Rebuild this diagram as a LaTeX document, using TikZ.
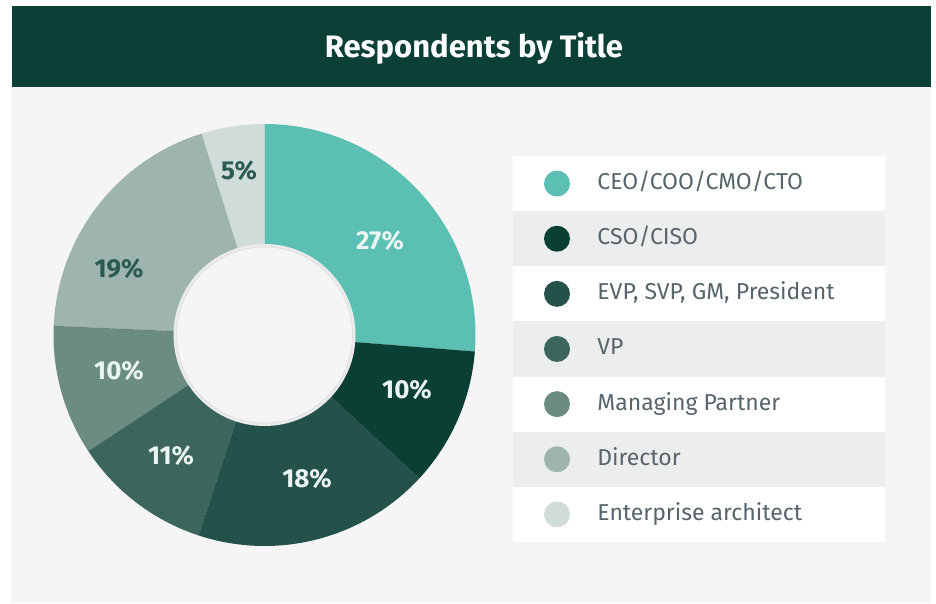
\documentclass[tikz,border=0pt]{standalone}
\usepackage{fontspec}
\setmainfont{Fira Sans}
\usepackage{xcolor}
\usepackage{tikz}
\usetikzlibrary{positioning}

\definecolor{barGreen}{HTML}{0A4035}
\definecolor{panelGray}{HTML}{F5F5F5}
\definecolor{rowGray}{HTML}{ECEEED}
\definecolor{legText}{HTML}{56656B}
\definecolor{pctLight}{HTML}{EAF4F1}
\definecolor{pctDark}{HTML}{2B5B50}
\definecolor{sCeo}{HTML}{5BBFB3}
\definecolor{sCso}{HTML}{0A4034}
\definecolor{sEvp}{HTML}{24524A}
\definecolor{sVp}{HTML}{3C665C}
\definecolor{sMp}{HTML}{6B8C83}
\definecolor{sDir}{HTML}{9DB5AE}
\definecolor{sEa}{HTML}{D0DCD9}

\begin{document}
\begin{tikzpicture}[x=1pt,y=1pt]

\def\R{211}
\def\r{88}
\def\rowh{55.14}
\tikzstyle{pct} = [font=\bfseries\fontsize{26}{26}\selectfont, text=pctLight,
	text height=0.69em, text depth=0pt, inner sep=0pt];
\tikzstyle{item} = [font=\fontsize{23}{23}\selectfont, text=legText,
	text height=0.69em, text depth=0pt, inner sep=0pt];
\tikzstyle{dot} = [circle, minimum size=26pt, inner sep=0pt];

\useasboundingbox (0,0) rectangle (936,603);
\fill[white] (0,0) rectangle (936,603);
\fill[panelGray] (11,0) rectangle (931,516);
\fill[barGreen] (12,516) rectangle (931,597);
\node[font=\bfseries\fontsize{31}{31}\selectfont, text=white] (title) at (474,555) {Respondents by Title};

% donut
\coordinate (c) at (264.5,268);
\foreach \a/\b/\col in {90/-4.5/sCeo, -4.5/-42.8/sCso, -42.8/-108.2/sEvp,
	-108.2/-146.6/sVp, -146.6/-182.5/sMp, -182.5/-252.6/sDir, -252.6/-270/sEa} {
	\fill[\col] (c) -- ++(\a:\R) arc[start angle=\a, end angle=\b, radius=\R] -- cycle;
	\draw[black, opacity=.12, line width=.6pt] (c) -- ++(\a:\R);
}
\draw[black!8, line width=3pt] (c) circle (\r+1.5);
\node[circle, minimum size=2*\r pt, inner sep=0pt, fill=panelGray, draw=black!12, line width=0.8pt] (hole) at (c) {};

\node[pct] (p27) at (380,357) {27\%};
\node[pct] (p10a) at (407,208) {10\%};
\node[pct] (p18) at (307,119) {18\%};
\node[pct] (p11) at (171,142) {11\%};
\node[pct] (p10b) at (119,227) {10\%};
\node[pct,text=pctDark] (p19) at (119,329) {19\%};
\node[pct,text=pctDark] (p5) at (239,427) {5\%};

% legend
\foreach \i/\col/\txt in {0/sCeo/{CEO/COO/CMO/CTO}, 1/sCso/{CSO/CISO},
	2/sEvp/{EVP, SVP, GM, President}, 3/sVp/VP, 4/sMp/{Managing Partner},
	5/sDir/Director, 6/sEa/{Enterprise architect}} {
	\pgfmathsetmacro\ytop{447-\i*\rowh}
	\pgfmathsetmacro\ybot{447-(\i+1)*\rowh}
	\pgfmathsetmacro\y{447-(\i+0.5)*\rowh}
	\ifodd\i \fill[rowGray] (513,\ytop) rectangle (885,\ybot);
	\else \fill[white] (513,\ytop) rectangle (885,\ybot); \fi
	\node[dot, fill=\col] (d\i) at (557,\y) {};
	\node[item, right=27pt of d\i, yshift=-2.5pt] (t\i) {\txt};
}

\end{tikzpicture}
\end{document}
